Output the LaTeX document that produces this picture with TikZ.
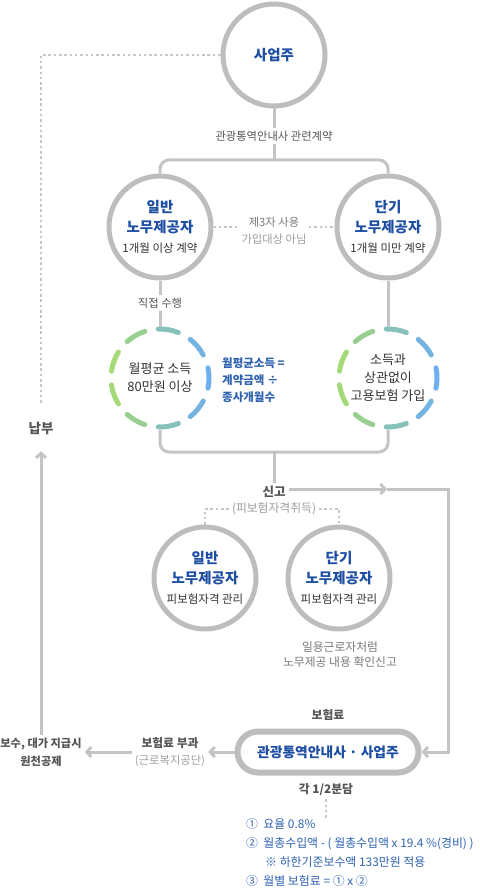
\documentclass[tikz,border=0pt]{standalone}
\usepackage{fontspec}
\setmainfont{Noto Sans CJK KR}
\usetikzlibrary{arrows.meta,calc}
\definecolor{ringgray}{HTML}{BDBDBD}
\definecolor{conngray}{HTML}{C4C4C4}
\definecolor{dotgray}{HTML}{C6C6C6}
\definecolor{titleblue}{HTML}{1D4EA3}
\definecolor{noteblue}{HTML}{2E62B0}
\definecolor{darktext}{HTML}{333333}
\definecolor{midtext}{HTML}{555555}
\definecolor{softtext}{HTML}{7A7A7A}
\definecolor{lighttext}{HTML}{9E9E9E}
\definecolor{ringgreen}{HTML}{A8DA73}
\definecolor{ringblue}{HTML}{6EAFF0}
\newcommand{\tb}[1]{{\color{titleblue}\bfseries\fontsize{14.5}{20}\selectfont #1}}
\tikzset{
  bigcirc/.style={circle, draw=ringgray, line width=5pt, minimum size=102pt, inner sep=0pt,
    align=center, text=darktext, font=\fontsize{11.5}{20}\selectfont},
  ringtext/.style={circle, minimum size=98pt, inner sep=0pt, outer sep=2.5pt, align=center,
    text=darktext, font=\fontsize{13}{18}\selectfont},
  pill/.style={rectangle, rounded corners=20.5pt, draw=ringgray, line width=6pt,
    minimum width=181pt, minimum height=41pt, inner sep=0pt, text=titleblue,
    font=\bfseries\fontsize{13.8}{16}\selectfont},
  conn/.style={draw=conngray, line width=3pt},
  dotline/.style={draw=dotgray, line width=2.5pt, dash pattern=on 2.5pt off 2.8pt},
  lbl/.style={fill=white, inner sep=3pt, text=midtext, align=center, font=\fontsize{11.3}{17}\selectfont},
  boldlbl/.style={inner sep=3pt, text=midtext, align=center, font=\bfseries\fontsize{11.8}{17}\selectfont},
  barb/.style={-{Straight Barb[length=4.5pt,width=10pt]}},
}
\begin{document}
\begin{tikzpicture}[x=1pt,y=-1pt]
\useasboundingbox (0,0) rectangle (479,890);

% main nodes
\node[bigcirc] (A) at (274,55) {\tb{사업주}};
\node[bigcirc] (B1) at (160,227) {\tb{일반}\\\tb{노무제공자}\\1개월 이상 계약};
\node[bigcirc] (B2) at (388,227) {\tb{단기}\\\tb{노무제공자}\\1개월 미만 계약};
\node[ringtext] (C1) at (160,378) {월평균 소득\\80만원 이상};
\node[ringtext] (C2) at (388,378) {소득과\\상관없이\\고용보험 가입};
\node[bigcirc] (D1) at (205,578) {\tb{일반}\\\tb{노무제공자}\\피보험자격 관리};
\node[bigcirc] (D2) at (339,578) {\tb{단기}\\\tb{노무제공자}\\피보험자격 관리};
\node[pill] (E) at (328,752) {관광통역안내사 · 사업주};

% gradient dashed rings
\foreach \c in {C1,C2}{
  \foreach \a in {0,40,...,320}{
    \pgfmathtruncatemacro{\p}{50+50*cos(\a)}
    \pgfmathsetmacro{\sa}{\a-12}
    \pgfmathsetmacro{\ea}{\a+12}
    \colorlet{ringc}{ringblue!\p!ringgreen}
    \draw[ringc, line width=5pt, line cap=round] ($(\c)+(\sa:49)$) arc[start angle=\sa, end angle=\ea, radius=49];
  }
}

% text nodes
\node[boldlbl, font=\bfseries\fontsize{12.5}{17}\selectfont] (sin) at (274,492) {신고};
\node[lbl, text=lighttext, font=\fontsize{11.8}{17}\selectfont] (acq) at (274,509) {(피보험자격취득)};
\node[boldlbl, font=\bfseries\fontsize{13.5}{17}\selectfont, outer ysep=14pt] (nabu) at (41,428) {납부};
\node[lbl, fill=none, text=noteblue, align=left, anchor=west, font=\bfseries\fontsize{11.5}{17}\selectfont] (formula) at (219,380) {월평균소득 =\\계약금액 ÷\\종사개월수};
\node[lbl, fill=none, text=softtext, font=\fontsize{11.8}{15}\selectfont] (daily) at (340,654.5) {일용근로자처럼\\노무제공 내용 확인신고};
\node[boldlbl] (prem) at (328,715) {보험료};
\node[lbl, fill=none] (fee) at (170,752) {{\bfseries\fontsize{11.8}{17}\selectfont 보험료 부과}\\{\color{lighttext}(근로복지공단)}};
\node[boldlbl, font=\bfseries\fontsize{11.2}{18}\selectfont] (pay) at (41,752) {보수, 대가 지급시\\원천공제};
\node[boldlbl] (share) at (326,790) {각 1/2분담};
\node[anchor=north west, inner sep=0pt, text=noteblue, align=left, font=\fontsize{11.9}{19}\selectfont] (list) at (246,818)
  {① \ 요율 0.8\%\\② \ 월총수입액 - ( 월총수입액 x 19.4 \%(경비) )\\\hspace*{19pt}※ 하한기준보수액 133만원 적용\\③ \ 월별 보험료 = ① x ②};

% connectors
\coordinate (h1) at (274,160);
\coordinate (h2) at (274,452);
\coordinate (amid) at (387,489);
\coordinate (rc) at (448,600);
\draw[conn] (A) -- (h1);
\draw[conn, rounded corners=9pt] (B1) |- (h1) -| (B2);
\draw[dotline] (B1) -- (B2);
\draw[conn] (B1) -- (C1);
\draw[conn] (B2) -- (C2);
\draw[conn, rounded corners=9pt] (C1) |- (h2) -| (C2);
\draw[conn] (h2) -- (sin);
\draw[conn, barb] (sin.east |- amid) -- (amid);
\draw[conn, barb] (amid) -| (rc) |- (E);
\draw[dotline] (acq.west) -| (D1);
\draw[dotline] (acq.east) -| (D2);
\draw[conn, barb] (E) -- (fee);
\draw[conn, barb] (fee) -- (pay);
\draw[conn, barb] (pay) -- (nabu);
\draw[dotline] (A) -| (nabu);
\draw[dotline] (share) -- (share |- list.north);

% labels over lines
\node[lbl] (contract) at (274,136) {관광통역안내사 관련계약};
\node[lbl] (third) at (274,230.5) {{\color{softtext}제3자 사용}\\{\color{lighttext}가입대상 아님}};
\node[lbl] (direct) at (160,303) {직접 수행};
\end{tikzpicture}
\end{document}
